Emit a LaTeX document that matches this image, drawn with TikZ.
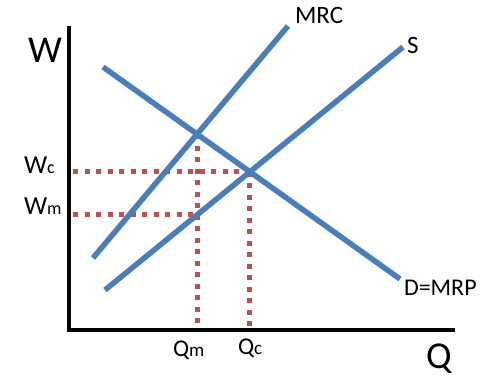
\documentclass[tikz,border=0pt]{standalone}
\usepackage{fontspec}
\setmainfont{Carlito}
\usetikzlibrary{intersections}
\definecolor{curveblue}{HTML}{4A7EBB}
\definecolor{dotred}{HTML}{C0504D}
\tikzset{
  axisline/.style={line width=4.5pt, black},
  curve/.style={line width=5.5pt, curveblue},
  guide/.style={line width=5pt, dotred, dash pattern=on 5pt off 6.5pt},
  lbl/.style={anchor=base west, inner sep=0pt, outer sep=0pt},
}
\begin{document}
\begin{tikzpicture}[x=1pt,y=-1pt]
\useasboundingbox (0,0) rectangle (496,381);
% axes
\coordinate (ytop) at (69,26);
\coordinate (orig) at (69,330);
\coordinate (xend) at (455,330);
\draw[axisline] (ytop) -- (orig) -- (xend);
% curves
\coordinate (mrc1) at (93,258);
\coordinate (mrc2) at (288,26);
\coordinate (s1) at (105,290);
\coordinate (s2) at (403,47);
\coordinate (d1) at (103,67);
\coordinate (d2) at (400,279);
\path[name path=mrc] (mrc1) -- (mrc2);
\path[name path=sup] (s1) -- (s2);
\path[name path=dem] (d1) -- (d2);
\path[name intersections={of=mrc and dem, by=A}];
\path[name intersections={of=sup and dem, by=C}];
\coordinate (qmbot) at (A |- 0,327);
\coordinate (qcbot) at (C |- 0,327);
\path[name path=qmline] (A) -- (qmbot);
\path[name intersections={of=qmline and sup, by=B}];
\coordinate (wcleft) at (73,0 |- C);
\coordinate (wmleft) at (73,0 |- B);
% dotted guides
\draw[guide] (wcleft) -- (C);
\draw[guide] (C) -- (qcbot);
\draw[guide] (wmleft) -- (B);
\draw[guide] (A) -- (qmbot);
% curves on top
\draw[curve] (mrc1) -- (mrc2);
\draw[curve] (s1) -- (s2);
\draw[curve] (d1) -- (d2);
% labels
\node[lbl, font=\fontsize{38}{38}\selectfont] (W) at (28,62) {W};
\node[lbl, font=\fontsize{38}{38}\selectfont] (Q) at (426,368) {Q};
\node[lbl, font=\fontsize{25}{25}\selectfont] (MRC) at (295,23) {MRC};
\node[lbl, font=\fontsize{25}{25}\selectfont] (S) at (407,53) {S};
\node[lbl, font=\fontsize{24}{24}\selectfont] (DMRP) at (404,295) {D=MRP};
\node[lbl, font=\fontsize{26}{26}\selectfont] (Wc) at (24,173) {W\fontsize{18}{18}\selectfont c};
\node[lbl, font=\fontsize{26}{26}\selectfont] (Wm) at (24,214) {W\fontsize{18}{18}\selectfont m};
\node[lbl, font=\fontsize{24}{24}\selectfont] (Qm) at (173,356) {Q\fontsize{19}{19}\selectfont m};
\node[lbl, font=\fontsize{24}{24}\selectfont] (Qc) at (238,354) {Q\fontsize{19}{19}\selectfont c};
\end{tikzpicture}
\end{document}
